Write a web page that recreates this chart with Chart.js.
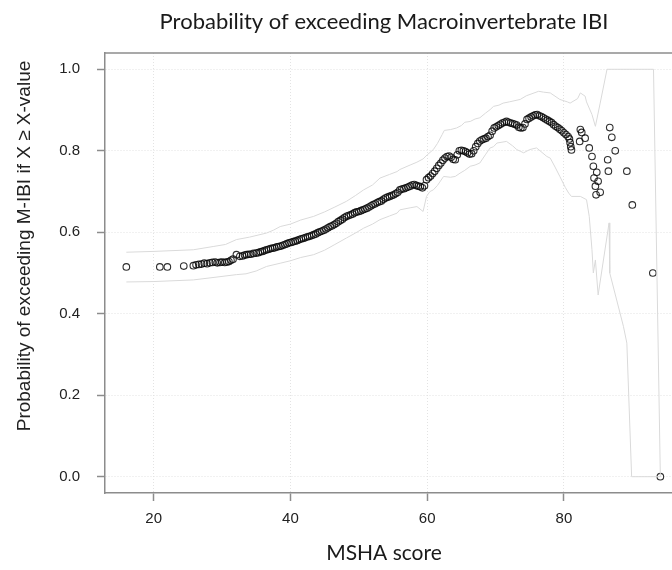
<!DOCTYPE html>
<html>
<head>
<meta charset="utf-8">
<script src="https://cdn.jsdelivr.net/npm/chart.js@4"></script>
<style>
  html, body { margin: 0; padding: 0; background: #fff; overflow: hidden; }
  #wrap { width: 672px; height: 570px; overflow: hidden; }
</style>
</head>
<body>
<div id="wrap"><canvas id="probChart" width="700" height="570"></canvas></div>
<script>
"use strict";

// observed points: MSHA score vs probability of exceeding M-IBI
const msha = [
  16.0, 20.9, 22.0, 24.4,
  25.8, 26.2, 26.6, 27.0, 27.4, 27.8, 28.2, 28.6, 29.0, 29.3, 29.7, 30.0, 30.4, 30.7, 31.0, 31.3,
  31.6, 32.1, 32.6, 33.0, 33.3, 33.6, 33.9, 34.2, 34.6, 35.0, 35.3, 35.6, 35.9, 36.2, 36.5, 36.8,
  37.1, 37.4, 37.7, 38.0, 38.3, 38.6, 38.9, 39.2, 39.5, 39.8, 40.1, 40.4, 40.7, 41.0, 41.3, 41.6,
  41.9, 42.2, 42.5, 42.8, 43.1, 43.4, 43.7, 44.0, 44.3, 44.6, 44.9, 45.2, 45.5, 45.8, 46.1, 46.4,
  46.7, 47.0, 47.3, 47.6, 47.9, 48.2, 48.5, 48.8, 49.1, 49.4, 49.7, 50.0, 50.3, 50.6, 50.9, 51.2,
  51.5, 51.8, 52.1, 52.4, 52.7, 53.0, 53.3, 53.6, 53.9, 54.2, 54.5, 54.8, 55.1, 55.4, 55.7, 56.0,
  56.3, 56.6, 56.9, 57.2, 57.5, 57.8, 58.1, 58.4, 58.7, 59.0, 59.3, 59.6, 59.9, 60.2, 60.5, 60.8,
  61.1, 61.4, 61.7, 62.0, 62.3, 62.6, 62.9, 63.2, 63.5, 63.8, 64.1, 64.4, 64.7, 65.0, 65.3, 65.6,
  65.9, 66.2, 66.5, 66.8, 67.1, 67.4, 67.7, 68.0, 68.3, 68.6, 68.9, 69.2, 69.5, 69.8, 70.1, 70.4,
  70.7, 71.0, 71.3, 71.6, 71.9, 72.2, 72.5, 72.8, 73.1, 73.4, 73.7, 74.0, 74.3, 74.6, 74.9, 75.2,
  75.5, 75.8, 76.1, 76.4, 76.7, 77.0, 77.3, 77.6, 77.9, 78.2, 78.5, 78.8, 79.1, 79.4, 79.7, 80.0,
  80.3, 80.6, 80.8, 80.9, 81.0, 81.1,
  82.3, 82.4, 82.6, 83.1, 83.7, 84.1, 84.3, 84.8, 84.4, 85.0, 84.6, 85.3, 84.7,
  86.7, 87.0, 87.5, 86.4, 86.5, 89.2, 90.0, 93.0, 94.1
];
const prob = [
  0.515, 0.515, 0.515, 0.517,
  0.518, 0.520, 0.521, 0.522, 0.524, 0.523, 0.525, 0.526, 0.527, 0.525, 0.526, 0.527, 0.526, 0.527, 0.528, 0.531,
  0.534, 0.545, 0.541, 0.542, 0.544, 0.545, 0.546, 0.546, 0.548, 0.549, 0.550, 0.552, 0.553, 0.555, 0.557, 0.558,
  0.560, 0.561, 0.562, 0.564, 0.565, 0.566, 0.568, 0.570, 0.572, 0.574, 0.575, 0.577, 0.578, 0.580, 0.582, 0.584,
  0.585, 0.587, 0.589, 0.590, 0.592, 0.594, 0.596, 0.599, 0.601, 0.603, 0.605, 0.608, 0.611, 0.614, 0.616, 0.619,
  0.622, 0.626, 0.629, 0.632, 0.636, 0.639, 0.641, 0.643, 0.645, 0.648, 0.650, 0.651, 0.653, 0.655, 0.657, 0.659,
  0.662, 0.665, 0.668, 0.670, 0.673, 0.675, 0.677, 0.681, 0.684, 0.686, 0.688, 0.690, 0.692, 0.695, 0.698, 0.704,
  0.706, 0.707, 0.709, 0.711, 0.713, 0.716, 0.717, 0.715, 0.713, 0.712, 0.709, 0.714, 0.729, 0.734, 0.738, 0.744,
  0.750, 0.757, 0.764, 0.770, 0.777, 0.782, 0.786, 0.787, 0.784, 0.779, 0.778, 0.790, 0.800, 0.801, 0.800, 0.798,
  0.795, 0.792, 0.793, 0.800, 0.810, 0.818, 0.824, 0.827, 0.829, 0.831, 0.835, 0.838, 0.848, 0.856, 0.859, 0.862,
  0.865, 0.868, 0.870, 0.872, 0.870, 0.868, 0.867, 0.865, 0.863, 0.858, 0.856, 0.857, 0.866, 0.877, 0.880, 0.883,
  0.886, 0.888, 0.889, 0.886, 0.884, 0.881, 0.878, 0.875, 0.872, 0.869, 0.864, 0.860, 0.857, 0.853, 0.849, 0.844,
  0.840, 0.835, 0.829, 0.820, 0.810, 0.802,
  0.823, 0.852, 0.845, 0.831, 0.807, 0.786, 0.762, 0.747, 0.733, 0.725, 0.713, 0.698, 0.692,
  0.857, 0.833, 0.800, 0.778, 0.750, 0.750, 0.667, 0.500, 0.000
];

// upper confidence band
const upperX = [
  16.0, 20.0, 25.8, 28.7, 30.5, 32.1, 34.0, 36.5, 37.5, 38.5, 40.0, 41.5, 43.4, 45.0, 46.5, 48.2,
  49.5, 50.7, 52.0, 53.1, 54.5, 55.6, 56.0, 57.5, 58.5, 59.4, 60.0, 60.9, 61.5, 62.2, 62.5, 63.4,
  64.3, 65.0, 65.5, 66.3, 67.0, 67.7, 68.5, 69.2, 69.7, 70.5, 71.1, 72.0, 73.6, 74.5, 76.3, 77.0,
  78.0, 79.4, 80.5, 80.9, 82.0, 82.4, 83.1, 83.3, 84.1, 84.6, 85.3, 86.3, 93.1, 94.1
];
const upperY = [
  0.551, 0.553, 0.557, 0.565, 0.570, 0.582, 0.588, 0.598, 0.605, 0.614, 0.620, 0.630, 0.639, 0.650, 0.662, 0.676,
  0.690, 0.704, 0.716, 0.733, 0.742, 0.749, 0.754, 0.765, 0.772, 0.780, 0.790, 0.803, 0.818, 0.840, 0.850, 0.852,
  0.856, 0.862, 0.870, 0.872, 0.878, 0.881, 0.892, 0.901, 0.909, 0.912, 0.917, 0.920, 0.926, 0.935, 0.946, 0.944,
  0.942, 0.926, 0.920, 0.917, 0.928, 0.942, 0.934, 0.920, 0.889, 0.860, 0.917, 1.000, 1.000, 0.000
];

// lower confidence band
const lowerX = [
  16.0, 20.0, 25.8, 29.7, 32.1, 33.5, 35.0, 36.5, 38.5, 40.0, 41.5, 43.4, 45.0, 46.5, 48.2, 49.5,
  50.7, 52.0, 53.1, 54.5, 55.6, 56.0, 57.5, 58.5, 59.4, 59.9, 60.4, 60.9, 61.5, 62.4, 63.4, 64.1,
  64.8, 65.5, 66.3, 67.0, 67.7, 68.5, 69.2, 69.7, 70.2, 71.6, 72.5, 73.1, 73.6, 74.1, 75.0, 76.0,
  76.5, 77.5, 78.0, 78.7, 79.4, 80.2, 80.7, 81.1, 82.4, 83.3, 83.7, 84.1, 84.3, 84.6, 85.0, 86.6,
  86.7, 88.7, 89.2, 89.9, 94.1
];
const lowerY = [
  0.478, 0.479, 0.483, 0.491, 0.496, 0.498, 0.505, 0.516, 0.524, 0.530, 0.538, 0.545, 0.556, 0.570, 0.586, 0.598,
  0.610, 0.620, 0.631, 0.640, 0.647, 0.655, 0.660, 0.663, 0.651, 0.688, 0.700, 0.704, 0.715, 0.737, 0.735, 0.737,
  0.745, 0.752, 0.762, 0.765, 0.770, 0.790, 0.807, 0.810, 0.819, 0.823, 0.812, 0.803, 0.799, 0.795, 0.803, 0.807,
  0.800, 0.786, 0.782, 0.760, 0.737, 0.710, 0.696, 0.688, 0.688, 0.680, 0.639, 0.557, 0.500, 0.532, 0.446, 0.623,
  0.500, 0.369, 0.328, 0.000, 0.000
];

const xTicks = [20, 40, 60, 80];
const yTicks = [0, 0.2, 0.4, 0.6, 0.8, 1.0];

const chartTitle = "Probability of exceeding Macroinvertebrate IBI";
const xTitle = "MSHA score";
const yTitle = "Probability of exceeding M-IBI if X \u2265 X-value";

const toXY = (xs, ys) => xs.map((x, i) => ({ x: x, y: ys[i] }));

// frame top line and titles
const decorations = {
  id: "decorations",
  afterDraw(chart) {
    const { ctx, chartArea } = chart;
    ctx.save();
    ctx.strokeStyle = "#8c8c8c";
    ctx.lineWidth = 1.5;
    ctx.beginPath();
    ctx.moveTo(chartArea.left, chartArea.top);
    ctx.lineTo(chartArea.right, chartArea.top);
    ctx.stroke();

    ctx.fillStyle = "#1a1a1a";
    ctx.textAlign = "center";
    ctx.textBaseline = "middle";
    ctx.font = "22px Lato";
    ctx.fillText(chartTitle, 384, 22);
    ctx.font = "21px Lato";
    ctx.fillText(xTitle, 384, 553);

    ctx.translate(25, 246);
    ctx.rotate(-Math.PI / 2);
    ctx.font = "19px 'Liberation Sans'";
    ctx.fillStyle = "#222";
    ctx.fillText(yTitle, 0, 0);
    ctx.restore();
  },
};

const ctx = document.getElementById("probChart").getContext("2d");

new Chart(ctx, {
  type: "scatter",
  data: {
    datasets: [
      {
        label: "upper",
        data: toXY(upperX, upperY),
        showLine: true,
        borderColor: "#dadada",
        borderWidth: 1,
        pointRadius: 0,
        tension: 0,
      },
      {
        label: "lower",
        data: toXY(lowerX, lowerY),
        showLine: true,
        borderColor: "#dadada",
        borderWidth: 1,
        pointRadius: 0,
        tension: 0,
      },
      {
        label: "observed",
        data: toXY(msha, prob),
        showLine: false,
        pointStyle: "circle",
        pointRadius: 3.3,
        pointBorderWidth: 1.1,
        pointBorderColor: "rgba(10,10,10,0.85)",
        pointBackgroundColor: "rgba(0,0,0,0)",
      },
    ],
  },
  options: {
    responsive: false,
    animation: false,
    layout: { padding: { top: 53, right: 19, left: 0, bottom: 0 } },
    plugins: {
      legend: { display: false },
      tooltip: { enabled: false },
    },
    scales: {
      x: {
        type: "linear",
        min: 12.88,
        max: 97.12,
        afterBuildTicks: (s) => { s.ticks = xTicks.map((v) => ({ value: v })); },
        afterFit: (s) => { s.height = 77; },
        ticks: {
          color: "#222",
          font: { family: "'Liberation Sans'", size: 15 },
          padding: 9,
          maxRotation: 0,
        },
        grid: {
          color: "#e3e3e3",
          tickColor: "#8c8c8c",
          tickLength: 8,
          tickWidth: 1.5,
        },
        border: { color: "#8c8c8c", width: 1.5, dash: [1, 2] },
      },
      y: {
        type: "linear",
        min: -0.04,
        max: 1.04,
        afterBuildTicks: (s) => { s.ticks = yTicks.map((v) => ({ value: v })); },
        afterFit: (s) => { s.width = 105; },
        ticks: {
          color: "#222",
          font: { family: "'Liberation Sans'", size: 15 },
          padding: 17,
          callback: (v) => v.toFixed(1),
        },
        grid: {
          color: "#e3e3e3",
          tickColor: "#8c8c8c",
          tickLength: 8,
          tickWidth: 1.5,
        },
        border: { color: "#8c8c8c", width: 1.5, dash: [1, 2] },
      },
    },
  },
  plugins: [decorations],
});
</script>
</body>
</html>
